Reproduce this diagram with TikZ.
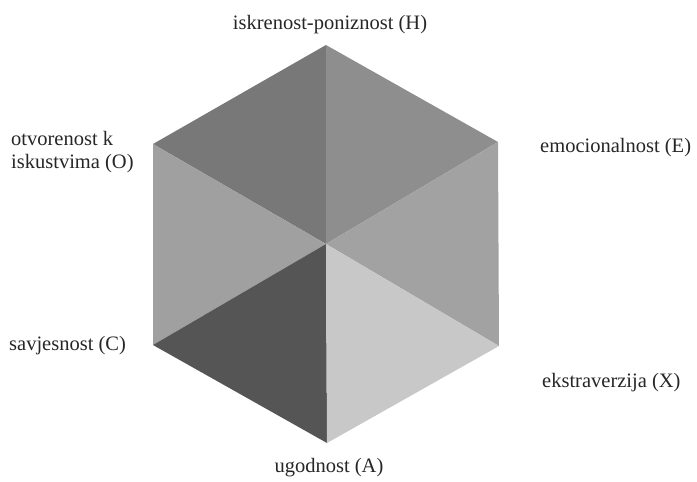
\documentclass[tikz,border=0pt]{standalone}
\usepackage{fontspec}
\setmainfont{Liberation Serif}
\begin{document}
\begin{tikzpicture}[x=1pt,y=-1pt,
  lbl/.style={font=\fontsize{20.5}{23}\selectfont, text=black!85, inner sep=0pt},
  face/.style={draw=none}]
\useasboundingbox (0,0) rectangle (697,482);
\coordinate (T) at (326,45);
\coordinate (UL) at (153,144);
\coordinate (LL) at (153,345);
\coordinate (B) at (327,443);
\coordinate (LR) at (499,346);
\coordinate (UR) at (498,142);
\coordinate (C) at (326,244);
\fill[face, fill={rgb,255:red,120;green,120;blue,120}] (T) -- (UL) -- (C) -- cycle;
\fill[face, fill={rgb,255:red,142;green,142;blue,142}] (T) -- (UR) -- (C) -- cycle;
\fill[face, fill={rgb,255:red,160;green,160;blue,160}] (UL) -- (LL) -- (C) -- cycle;
\fill[face, fill={rgb,255:red,162;green,162;blue,162}] (UR) -- (LR) -- (C) -- cycle;
\fill[face, fill={rgb,255:red,85;green,85;blue,85}] (LL) -- (B) -- (C) -- cycle;
\fill[face, fill={rgb,255:red,200;green,200;blue,200}] (LR) -- (B) -- (C) -- cycle;
\node[lbl] (H) at (330,25) {iskrenost-poniznost (H)};
\node[lbl, anchor=west, align=left] (O) at (11,152) {otvorenost k\\iskustvima (O)};
\node[lbl, anchor=west] (E) at (540,148) {emocionalnost (E)};
\node[lbl, anchor=west] (Cs) at (9,346) {savjesnost (C)};
\node[lbl, anchor=west] (X) at (542,383) {ekstraverzija (X)};
\node[lbl] (A) at (329,468) {ugodnost (A)};
\end{tikzpicture}
\end{document}
